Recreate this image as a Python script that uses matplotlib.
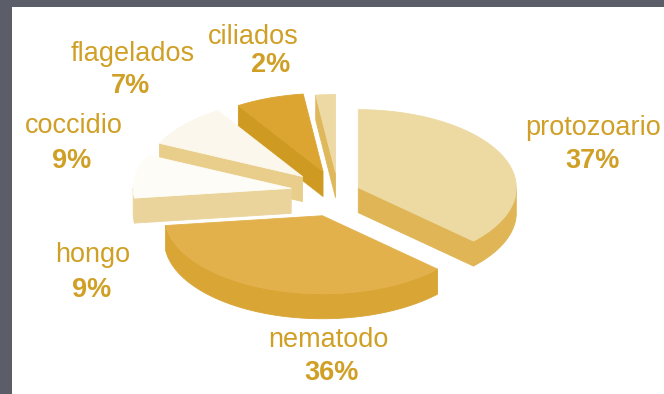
import matplotlib
matplotlib.use("Agg")
import matplotlib.pyplot as plt
from matplotlib.patches import Polygon, Rectangle
import numpy as np

# slices, clockwise from 12 o'clock
labels = ["protozoario", "nematodo", "hongo", "coccidio", "flagelados", "ciliados"]
values = [37, 36, 9, 9, 7, 2]
explode = [0.14, 0.32, 0.30, 0.30, 0.28, 0.25]
top_colors = ["#EDDAA3", "#E3B14C", "#FEFCF6", "#FCF7EC", "#DCA532", "#EDD9A4"]
side_colors = ["#DFB556", "#D9A535", "#EBD49B", "#E8CE8A", "#CF9A22", "#E0B85C"]

# label anchors (x center, name baseline, percent baseline, percent x)
label_pos = {
    "protozoario": (593, 135, 168, 593),
    "nematodo": (328, 347, 380, 332),
    "hongo": (93, 262, 297, 92),
    "coccidio": (74, 133, 168, 72),
    "flagelados": (133, 61, 93, 130),
    "ciliados": (253, 44, 72, 271),
}

text_color = "#D0A026"
cx, cy = 338, 192      # pie centre (pixels, y down)
rx, ry = 158, 78       # ellipse radii of the top face
h = 25                 # thickness


def rim(apex, th):
    return np.column_stack([apex[0] + rx * np.cos(th), apex[1] - ry * np.sin(th)])


fig = plt.figure(figsize=(6.64, 3.94), dpi=100, facecolor="#5b5e69")
ax = fig.add_axes([0, 0, 1, 1])
ax.set_xlim(0, 664)
ax.set_ylim(394, 0)
ax.axis("off")
ax.add_patch(Rectangle((12, 7), 652, 387, facecolor="white", edgecolor="none"))

# angles of each slice (counterclockwise in degrees)
total = sum(values)
ends = 90 - 360 * np.cumsum(values) / total
starts = np.concatenate([[90], ends[:-1]])

slices = []
for i in range(len(values)):
    a1, a2 = np.radians(ends[i]), np.radians(starts[i])
    mid = (a1 + a2) / 2
    apex = (cx + explode[i] * rx * np.cos(mid), cy - explode[i] * ry * np.sin(mid))
    slices.append((np.sin(mid), i, a1, a2, apex))

# back slices first
for _, i, a1, a2, apex in sorted(slices, reverse=True):
    side = side_colors[i]
    top = top_colors[i]
    kw = dict(closed=True, linewidth=0.6, joinstyle="round")

    # radial walls facing the viewer
    for a, visible in ((a1, np.cos(a1) > 1e-9), (a2, np.cos(a2) < -1e-9)):
        if visible:
            p = rim(apex, np.array([a]))[0]
            wall = [apex, p, (p[0], p[1] + h), (apex[0], apex[1] + h)]
            ax.add_patch(Polygon(wall, facecolor=side, edgecolor=side, **kw))

    # outer rim, front half only
    th = np.linspace(a1, a2, 200)
    th = th[np.sin(th) <= 0]
    if len(th) > 1:
        up = rim(apex, th)
        down = up + [0, h]
        band = np.vstack([up, down[::-1]])
        ax.add_patch(Polygon(band, facecolor=side, edgecolor=side, **kw))

    # top face
    th = np.linspace(a1, a2, 200)
    face = np.vstack([[apex], rim(apex, th)])
    ax.add_patch(Polygon(face, facecolor=top, edgecolor=top, **kw))

# labels
for lab, val in zip(labels, values):
    x, yn, yp, xp = label_pos[lab]
    ax.text(x, yn, lab, ha="center", va="baseline", fontsize=19.5,
            color=text_color, family=["Liberation Sans", "DejaVu Sans"])
    ax.text(xp, yp, f"{val}%", ha="center", va="baseline", fontsize=19.5,
            fontweight="bold", color=text_color,
            family=["Liberation Sans", "DejaVu Sans"])

fig.savefig("out.png", dpi=100, facecolor=fig.get_facecolor())
